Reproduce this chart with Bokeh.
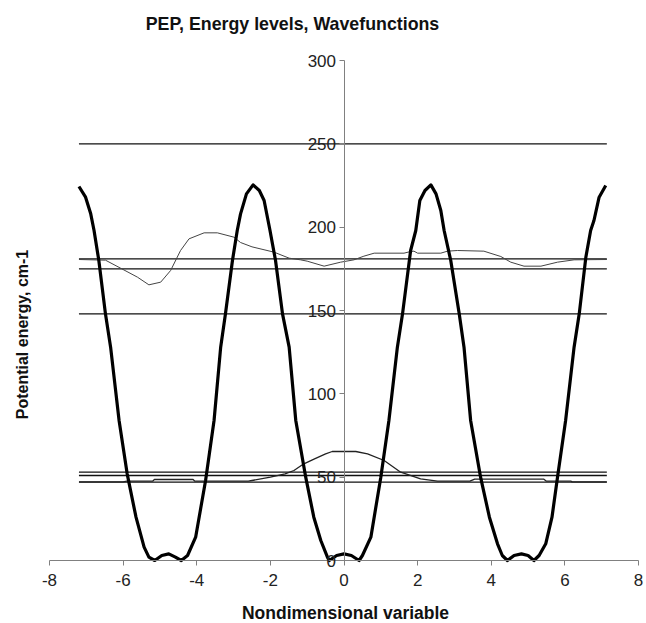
import math
from bokeh.plotting import figure
from bokeh.models import Range1d, FixedTicker, AllLabels, LinearAxis, Label
from bokeh.embed import file_html
from bokeh.resources import INLINE

# ---- data ----
pot_x = [-7.20, -7.02, -6.88, -6.79, -6.66, -6.48, -6.34, -6.11, -5.89, -5.65, -5.43, -5.30, -5.14,
         -4.95, -4.76, -4.58, -4.42, -4.25, -4.03, -3.76, -3.53, -3.35, -3.22, -3.03, -2.90, -2.81,
         -2.65, -2.47, -2.30, -2.17, -2.01, -1.86, -1.67, -1.49, -1.31, -1.04, -0.82, -0.63, -0.45,
         -0.40, -0.20, 0.00, 0.20, 0.41, 0.50, 0.73, 1.00, 1.22, 1.45, 1.59, 1.81, 1.95, 2.06, 2.20,
         2.36, 2.50, 2.63, 2.72, 2.90, 3.13, 3.26, 3.44, 3.71, 3.95, 4.17, 4.30, 4.44, 4.62, 4.82,
         5.00, 5.16, 5.30, 5.48, 5.65, 5.80, 6.02, 6.25, 6.39, 6.57, 6.70, 6.79, 6.93, 7.11]
pot_v = [224.4, 218, 208, 198, 180, 148, 128, 84, 52, 26, 8, 2, 0,
         3, 4, 2, 0, 3, 14, 48, 84, 128, 148, 180, 198, 208,
         220, 225.4, 222, 216, 198, 180, 148, 128, 84, 50, 26, 12, 2,
         0, 3, 4, 3, 0, 3, 14, 50, 84, 128, 148, 186, 198, 216, 222,
         225.4, 220, 210, 198, 180, 148, 128, 84, 50, 26, 10, 3, 0, 3, 4,
         3, 0, 3, 10, 26, 50, 84, 128, 148, 182, 198, 204, 218, 225]

levels = [250, 181, 175, 148, 53, 51, 47]
level_x_start = -7.2
level_x_end = 7.14

wf_low_x = [-7.2, -6.0, -5.9, -5.2, -5.15, -4.1, -4.05, -2.6, -2.5, -2.0, -1.6, -1.36, -1.09, -0.8,
            -0.5, -0.32, 0.32, 0.64, 1.09, 1.54, 2.08, 2.54, 3.42, 3.55, 5.43, 5.5, 6.16, 6.2, 7.14]
wf_low_y = [47.2, 47.2, 47.6, 47.6, 48.6, 48.6, 47.6, 47.6, 48.0, 50, 52, 54, 58, 61,
            64, 65.4, 65.4, 64, 60, 53, 49, 47.6, 47.6, 48.8, 48.8, 47.6, 47.6, 47.2, 47.2]

wf_up_x = [-7.2, -6.48, -6.07, -5.61, -5.30, -4.98, -4.71, -4.44, -4.21, -3.80, -3.44, -2.99, -2.81,
           -2.50, -1.90, -1.49, -1.18, -1.0, -0.54, -0.09, 0.27, 0.54, 0.82, 1.63, 1.81, 1.90, 2.0,
           2.63, 2.81, 3.08, 3.80, 4.26, 4.53, 4.89, 5.35, 5.80, 6.25, 7.14]
wf_up_y = [180.6, 180.2, 175.4, 170, 165.4, 167, 174, 186, 193, 196.6, 196.6, 194, 190.8,
           188.2, 185, 181.4, 180.4, 179.6, 176.6, 179, 180.4, 182.6, 184.4, 184.4, 185.4, 185.6, 184.4,
           184.4, 185.6, 186, 185.6, 182.4, 179, 176.6, 176.6, 179, 180.4, 180.6]

x_ticks = [-8, -6, -4, -2, 0, 2, 4, 6, 8]
y_ticks = [0, 50, 100, 150, 200, 250, 300]

title_text = "PEP, Energy levels, Wavefunctions"
x_label = "Nondimensional variable"
y_label = "Potential energy, cm-1"

FONT = "Liberation Sans"

# Canvas layout (pixels): plot area x=-8..8 -> 49..638 px, y=0..300 -> 560..60 px
W, H = 646, 623
PX_L, PX_R, PX_T, PX_B = 49, 638, 60, 560
x_min, x_max = x_ticks[0], x_ticks[-1]
y_min, y_max = y_ticks[0], y_ticks[-1]
kx = (PX_R - PX_L) / (x_max - x_min)
ky = (PX_B - PX_T) / (y_max - y_min)

def dx(px):
    return x_min + (px - PX_L) / kx

def dy(py):
    return y_min + (PX_B - py) / ky

p = figure(width=W, height=H, x_range=Range1d(dx(0), dx(W)), y_range=Range1d(dy(H), dy(0)),
           output_backend="svg", toolbar_location=None, x_axis_location=None, y_axis_location=None,
           min_border=0)
p.xgrid.visible = False
p.ygrid.visible = False
p.outline_line_color = None
p.background_fill_color = "white"
p.border_fill_color = "white"

ax = LinearAxis(fixed_location=0, bounds=(x_min, x_max), ticker=FixedTicker(ticks=x_ticks))
ax.major_label_overrides = {float(t): str(t) for t in x_ticks}
ax.major_label_text_font = FONT
ax.major_label_text_font_size = "17px"
ax.major_label_text_color = "#222222"
ax.major_label_standoff = 8
ax.major_tick_in = 0
ax.major_tick_out = 5
ax.minor_tick_line_color = None
ax.axis_line_color = "#808080"
ax.major_tick_line_color = "#808080"
ax.major_label_policy = AllLabels()
p.add_layout(ax, "below")

ay = LinearAxis(fixed_location=0, bounds=(y_min, y_max), ticker=FixedTicker(ticks=y_ticks))
ay.major_label_policy = AllLabels()
ay.major_label_text_font = FONT
ay.major_label_text_font_size = "17px"
ay.major_label_text_color = "#222222"
ay.major_label_standoff = 3
ay.major_tick_in = 0
ay.major_tick_out = 5
ay.minor_tick_line_color = None
ay.axis_line_color = "#808080"
ay.major_tick_line_color = "#808080"
p.add_layout(ay, "left")

# energy levels
p.segment(x0=[level_x_start] * len(levels), x1=[level_x_end] * len(levels),
          y0=levels, y1=levels, line_color="#111111", line_width=1.3)

# wavefunctions
p.line(wf_up_x, wf_up_y, line_color="#444444", line_width=1.0)
p.line(wf_low_x, wf_low_y, line_color="#222222", line_width=1.3)

# potential
p.line(pot_x, pot_v, line_color="#000000", line_width=3.2, line_join="round")

# titles
p.add_layout(Label(x=dx(292), y=dy(23), text=title_text, text_font=FONT, text_font_size="17.8px",
                   text_font_style="bold", text_color="#111111", text_align="center",
                   text_baseline="middle"))
p.add_layout(Label(x=dx(345), y=dy(612), text=x_label, text_font=FONT, text_font_size="17.5px",
                   text_font_style="bold", text_color="#111111", text_align="center",
                   text_baseline="middle"))
p.add_layout(Label(x=dx(22), y=dy(334), text=y_label, text_font=FONT, text_font_size="16px",
                   text_font_style="bold", text_color="#111111", text_align="center",
                   text_baseline="middle", angle=math.pi / 2))

open("out.html", "w").write(file_html(p, INLINE))
